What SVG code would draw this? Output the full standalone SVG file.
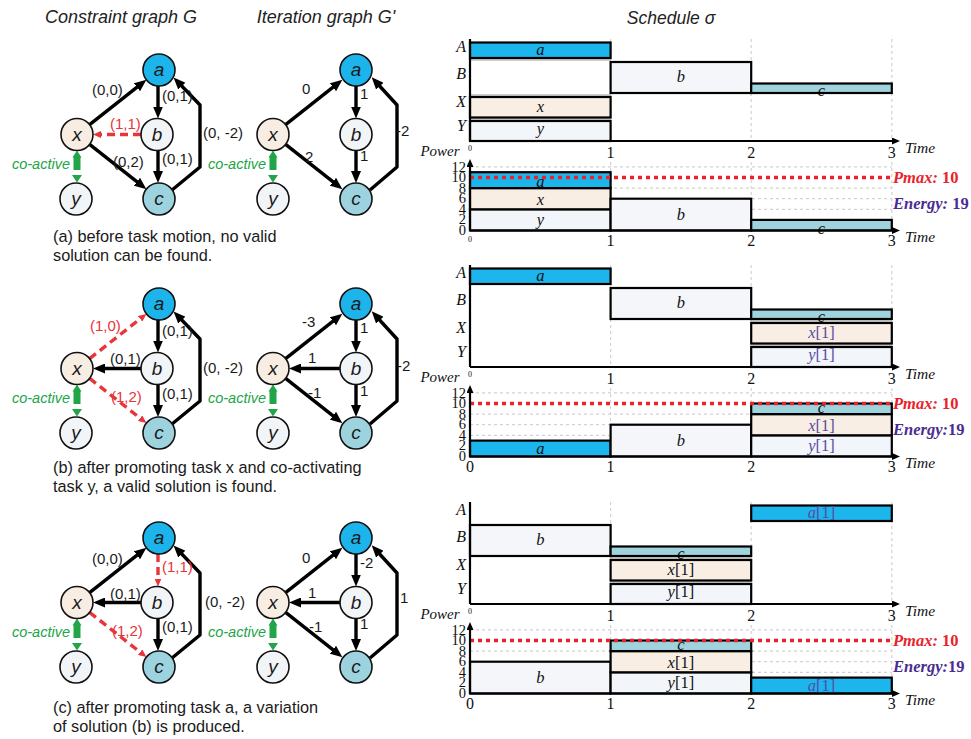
<svg xmlns="http://www.w3.org/2000/svg" width="971" height="739" viewBox="0 0 971 739">
<style>
.ttl{font-family:'Liberation Sans',Arial,sans-serif;font-style:italic;font-size:18px;fill:#222;text-anchor:middle}
.cap{font-family:'Liberation Sans',Arial,sans-serif;font-size:16.3px;fill:#1a1a1a}
.node circle{stroke:#111;stroke-width:1.6}
.node text{font-family:'Liberation Sans',Arial,sans-serif;font-style:italic;font-size:19px;fill:#1a1a1a;text-anchor:middle}
.fa{fill:#1cb4ea}.fb{fill:#f2f5f8}.fx{fill:#f7ede2}.fc{fill:#9dd3de}
.e{fill:none;stroke:#000;stroke-width:3.4;stroke-linejoin:round;marker-end:url(#ah)}
.d{fill:none;stroke:#e8353a;stroke-width:3.4;stroke-dasharray:8 5;marker-end:url(#ahr)}
.el{font-family:'Liberation Sans',Arial,sans-serif;font-size:15px;fill:#1a1a1a}
.el.r{fill:#e8353a}
.ca{font-family:'Liberation Sans',Arial,sans-serif;font-style:italic;font-size:14.5px;fill:#22a548;text-anchor:end}
.cg{fill:#22a548}
.rl{font-family:'Liberation Serif','Times New Roman',serif;font-style:italic;font-size:16px;fill:#111;text-anchor:end}
.tk{font-family:'Liberation Serif','Times New Roman',serif;font-size:16px;fill:#111;text-anchor:middle}
.tks{font-family:'Liberation Serif','Times New Roman',serif;font-size:8px;fill:#111;text-anchor:middle}
.pt{font-family:'Liberation Serif','Times New Roman',serif;font-size:14.5px;fill:#111;text-anchor:end}
.tm{font-family:'Liberation Serif','Times New Roman',serif;font-style:italic;font-size:15.5px;fill:#111}
.pw{font-family:'Liberation Serif','Times New Roman',serif;font-style:italic;font-size:15px;fill:#111;text-anchor:middle}
.ax{stroke:#000;stroke-width:2.2;fill:none}
.grid{stroke:#d2d2d2;stroke-width:1.2;stroke-dasharray:3 3;fill:none}
.lane{stroke:#9c9c9c;stroke-width:1;fill:none}
.t{stroke:#000;stroke-width:2.2}
.o{fill:none;stroke:#000;stroke-width:2.2}
.ta{fill:#1cb5ec}.tb{fill:#f4f6f9}.tc{fill:#9fd3de}.tx{fill:#f8eee4}.ty{fill:#f2f6fa}
.tl{font-family:'Liberation Serif','Times New Roman',serif;font-style:italic;font-size:16.5px;fill:#111;text-anchor:middle}
.tl.p{fill:#5b4ba2}
.up{font-style:normal}
.pmax{stroke:#e8232b;stroke-width:3.6;stroke-dasharray:4 4;fill:none}
.pm{font-family:'Liberation Serif','Times New Roman',serif;font-weight:bold;font-style:italic;font-size:16.5px;fill:#e8232b}
.en{font-family:'Liberation Serif','Times New Roman',serif;font-weight:bold;font-style:italic;font-size:16.5px;fill:#4a2c92}
</style>
<defs>
<marker id="ah" markerUnits="userSpaceOnUse" markerWidth="12" markerHeight="10" viewBox="0 0 12 10" refX="5" refY="5" orient="auto"><path d="M0,0 L12,5 L0,10 z" fill="#000"/></marker>
<marker id="ahr" markerUnits="userSpaceOnUse" markerWidth="8" markerHeight="7" viewBox="0 0 8 7" refX="3" refY="3.5" orient="auto"><path d="M0,0 L8,3.5 L0,7 z" fill="#e8353a"/></marker>
<marker id="axh" markerUnits="userSpaceOnUse" markerWidth="8" markerHeight="7" viewBox="0 0 8 7" refX="1" refY="3.5" orient="auto"><path d="M0,0 L8,3.5 L0,7 z" fill="#000"/></marker>
<g id="coact">
<polygon class="cg" points="72.5,157.5 77,150.5 81.5,157.5 80.5,157.5 80.5,170 73.5,170 73.5,157.5"/>
<polygon class="cg" points="72,175 82,175 77,182.5"/>
<text class="ca" x="70" y="169">co-active</text>
</g>
</defs>

<!-- column titles -->
<text class="ttl" x="121" y="23">Constraint graph G</text>
<text class="ttl" x="326" y="23">Iteration graph G'</text>
<text class="ttl" x="671" y="24" style="font-size:17.5px">Schedule σ</text>

<!-- ===== case (a) ===== -->
<g id="case-a">
 <g id="Ga">
  <g id="Ga-edges">
   <path class="e" d="M89.6,124.6 L140.9,84.2"/>
   <path class="e" d="M158,86 L158,111.5"/>
   <path class="e" d="M89.6,144.4 L140.9,184.8"/>
   <path class="e" d="M158,150.5 L158,176"/>
   <path class="e" d="M172,190 L200,167 L200,105 L178.4,82.5"/>
   <path class="d" d="M141,134.5 L98,134.5"/>
   <use href="#coact"/>
   <text class="el" x="92" y="95">(0,0)</text>
   <text class="el" x="162" y="101">(0,1)</text>
   <text class="el r" x="110" y="129">(1,1)</text>
   <text class="el" x="113" y="167">(0,2)</text>
   <text class="el" x="162" y="164">(0,1)</text>
   <text class="el" x="203" y="138">(0, -2)</text>
  </g>
  <g id="Ga-a" class="node"><circle class="fa" cx="159" cy="70" r="16"/><text x="159" y="76">a</text></g>
  <g id="Ga-b" class="node"><circle class="fb" cx="157" cy="134.5" r="16"/><text x="157" y="140.5">b</text></g>
  <g id="Ga-x" class="node"><circle class="fx" cx="77" cy="134.5" r="16"/><text x="77" y="140.5">x</text></g>
  <g id="Ga-c" class="node"><circle class="fc" cx="159" cy="199" r="16"/><text x="159" y="205">c</text></g>
  <g id="Ga-y" class="node"><circle class="fb" cx="76" cy="199" r="16"/><text x="76" y="205">y</text></g>
 </g>
 <g id="Ia" transform="translate(196,0)">
  <g id="Ia-edges">
   <path class="e" d="M89.6,124.6 L140.9,84.2"/>
   <path class="e" d="M160,86 L160,111.5"/>
   <path class="e" d="M89.6,144.4 L140.9,184.8"/>
   <path class="e" d="M160,150.5 L160,176"/>
   <path class="e" d="M174,190 L201,167 L201,105 L180.4,82.5"/>
   <use href="#coact"/>
   <text class="el" x="106" y="94">0</text>
   <text class="el" x="164" y="99">1</text>
   <text class="el" x="200" y="136">-2</text>
   <text class="el" x="109" y="162">2</text>
   <text class="el" x="164" y="161">1</text>
  </g>
  <g id="Ia-a" class="node"><circle class="fa" cx="160" cy="70" r="16"/><text x="160" y="76">a</text></g>
  <g id="Ia-b" class="node"><circle class="fb" cx="160" cy="134.5" r="16"/><text x="160" y="140.5">b</text></g>
  <g id="Ia-x" class="node"><circle class="fx" cx="77" cy="134.5" r="16"/><text x="77" y="140.5">x</text></g>
  <g id="Ia-c" class="node"><circle class="fc" cx="160" cy="199" r="16"/><text x="160" y="205">c</text></g>
  <g id="Ia-y" class="node"><circle class="fb" cx="77" cy="199" r="16"/><text x="77" y="205">y</text></g>
 </g>
 <text class="cap" x="53" y="242">(a) before task motion, no valid</text>
 <text class="cap" x="53" y="261">solution can be found.</text>
</g>

<!-- ===== case (b) ===== -->
<g id="case-b">
 <g id="Gb" transform="translate(0,234)">
  <g id="Gb-edges">
   <path class="d" d="M89.6,124.6 L142.5,83"/>
   <path class="e" d="M158,86 L158,111.5"/>
   <path class="e" d="M141,134.5 L100,134.5"/>
   <path class="d" d="M89.6,144.4 L142.5,186"/>
   <path class="e" d="M158,150.5 L158,176"/>
   <path class="e" d="M172,190 L200,167 L200,105 L178.4,82.5"/>
   <use href="#coact"/>
   <text class="el r" x="90" y="97">(1,0)</text>
   <text class="el" x="162" y="102">(0,1)</text>
   <text class="el" x="110" y="130">(0,1)</text>
   <text class="el r" x="111" y="168">(1,2)</text>
   <text class="el" x="162" y="165">(0,1)</text>
   <text class="el" x="203" y="139">(0, -2)</text>
  </g>
  <g id="Gb-a" class="node"><circle class="fa" cx="159" cy="70" r="16"/><text x="159" y="76">a</text></g>
  <g id="Gb-b" class="node"><circle class="fb" cx="157" cy="134.5" r="16"/><text x="157" y="140.5">b</text></g>
  <g id="Gb-x" class="node"><circle class="fx" cx="77" cy="134.5" r="16"/><text x="77" y="140.5">x</text></g>
  <g id="Gb-c" class="node"><circle class="fc" cx="159" cy="199" r="16"/><text x="159" y="205">c</text></g>
  <g id="Gb-y" class="node"><circle class="fb" cx="76" cy="199" r="16"/><text x="76" y="205">y</text></g>
 </g>
 <g id="Ib" transform="translate(196,234)">
  <g id="Ib-edges">
   <path class="e" d="M89.6,124.6 L140.9,84.2"/>
   <path class="e" d="M160,86 L160,111.5"/>
   <path class="e" d="M144,134.5 L100,134.5"/>
   <path class="e" d="M89.6,144.4 L140.9,184.8"/>
   <path class="e" d="M160,150.5 L160,176"/>
   <path class="e" d="M174,190 L201,167 L201,105 L180.4,82.5"/>
   <use href="#coact"/>
   <text class="el" x="106" y="93">-3</text>
   <text class="el" x="164" y="99">1</text>
   <text class="el" x="112" y="129">1</text>
   <text class="el" x="112" y="164">-1</text>
   <text class="el" x="164" y="162">1</text>
   <text class="el" x="201" y="137">-2</text>
  </g>
  <g id="Ib-a" class="node"><circle class="fa" cx="160" cy="70" r="16"/><text x="160" y="76">a</text></g>
  <g id="Ib-b" class="node"><circle class="fb" cx="160" cy="134.5" r="16"/><text x="160" y="140.5">b</text></g>
  <g id="Ib-x" class="node"><circle class="fx" cx="77" cy="134.5" r="16"/><text x="77" y="140.5">x</text></g>
  <g id="Ib-c" class="node"><circle class="fc" cx="160" cy="199" r="16"/><text x="160" y="205">c</text></g>
  <g id="Ib-y" class="node"><circle class="fb" cx="77" cy="199" r="16"/><text x="77" y="205">y</text></g>
 </g>
 <text class="cap" x="53" y="473">(b) after promoting task x and co-activating</text>
 <text class="cap" x="53" y="492">task y, a valid solution is found.</text>
</g>

<!-- ===== case (c) ===== -->
<g id="case-c">
 <g id="Gc" transform="translate(0,468)">
  <g id="Gc-edges">
   <path class="e" d="M89.6,124.6 L140.9,84.2"/>
   <path class="d" d="M158,86 L158,113.5"/>
   <path class="e" d="M141,134.5 L100,134.5"/>
   <path class="d" d="M89.6,144.4 L142.5,186"/>
   <path class="e" d="M158,150.5 L158,176"/>
   <path class="e" d="M172,190 L200,167 L200,105 L178.4,82.5"/>
   <use href="#coact"/>
   <text class="el" x="92" y="96">(0,0)</text>
   <text class="el r" x="162" y="104">(1,1)</text>
   <text class="el" x="110" y="131">(0,1)</text>
   <text class="el r" x="112" y="168">(1,2)</text>
   <text class="el" x="162" y="164">(0,1)</text>
   <text class="el" x="205" y="139">(0, -2)</text>
  </g>
  <g id="Gc-a" class="node"><circle class="fa" cx="159" cy="70" r="16"/><text x="159" y="76">a</text></g>
  <g id="Gc-b" class="node"><circle class="fb" cx="157" cy="134.5" r="16"/><text x="157" y="140.5">b</text></g>
  <g id="Gc-x" class="node"><circle class="fx" cx="77" cy="134.5" r="16"/><text x="77" y="140.5">x</text></g>
  <g id="Gc-c" class="node"><circle class="fc" cx="159" cy="199" r="16"/><text x="159" y="205">c</text></g>
  <g id="Gc-y" class="node"><circle class="fb" cx="76" cy="199" r="16"/><text x="76" y="205">y</text></g>
 </g>
 <g id="Ic" transform="translate(196,468)">
  <g id="Ic-edges">
   <path class="e" d="M89.6,124.6 L140.9,84.2"/>
   <path class="e" d="M160,86 L160,111.5"/>
   <path class="e" d="M144,134.5 L100,134.5"/>
   <path class="e" d="M89.6,144.4 L140.9,184.8"/>
   <path class="e" d="M160,150.5 L160,176"/>
   <path class="e" d="M174,190 L201,167 L201,105 L180.4,82.5"/>
   <use href="#coact"/>
   <text class="el" x="106" y="95">0</text>
   <text class="el" x="164" y="100">-2</text>
   <text class="el" x="112" y="130">1</text>
   <text class="el" x="113" y="164">-1</text>
   <text class="el" x="164" y="161">1</text>
   <text class="el" x="204" y="135">1</text>
  </g>
  <g id="Ic-a" class="node"><circle class="fa" cx="160" cy="70" r="16"/><text x="160" y="76">a</text></g>
  <g id="Ic-b" class="node"><circle class="fb" cx="160" cy="134.5" r="16"/><text x="160" y="140.5">b</text></g>
  <g id="Ic-x" class="node"><circle class="fx" cx="77" cy="134.5" r="16"/><text x="77" y="140.5">x</text></g>
  <g id="Ic-c" class="node"><circle class="fc" cx="160" cy="199" r="16"/><text x="160" y="205">c</text></g>
  <g id="Ic-y" class="node"><circle class="fb" cx="77" cy="199" r="16"/><text x="77" y="205">y</text></g>
 </g>
 <text class="cap" x="53" y="713">(c) after promoting task a, a variation</text>
 <text class="cap" x="53" y="732">of solution (b) is produced.</text>
</g>

<!-- ===== schedule 1 ===== -->
<g id="sched-a">
 <path class="grid" d="M610.6,39V141 M751.2,39V141 M891.8,39V141"/>
 <path class="lane" d="M470,60H610.6 M470,95H610.6 M470,119H610.6"/>
 <rect class="t ta" x="470" y="42.5" width="140.6" height="15.5"/><text class="tl" x="540.3" y="55">a</text>
 <rect class="t tb" x="610.6" y="62" width="140.6" height="31"/><text class="tl" x="680.9" y="82">b</text>
 <rect class="tc" x="751.2" y="83.5" width="140.6" height="9.5"/><text class="tl" x="821.5" y="96">c</text><rect class="o" x="751.2" y="83.5" width="140.6" height="9.5"/>
 <rect class="t tx" x="470" y="97" width="140.6" height="20.5"/><text class="tl" x="540.3" y="111.5">x</text>
 <rect class="t ty" x="470" y="121" width="140.6" height="20"/><text class="tl" x="540.3" y="134">y</text>
 <path class="ax" d="M470,39V141"/>
 <path class="ax" d="M470,141H893" marker-end="url(#axh)"/>
 <text class="rl" x="466" y="52">A</text><text class="rl" x="466" y="78.5">B</text><text class="rl" x="466" y="107">X</text><text class="rl" x="466" y="130.5">Y</text>
 <text class="tks" x="470" y="151">0</text>
 <text class="tk" x="610.6" y="158">1</text><text class="tk" x="751.2" y="158">2</text><text class="tk" x="891.8" y="158">3</text>
 <text class="tm" x="905" y="153">Time</text>
</g>
<g id="power-a">
 <text class="pw" x="440" y="156">Power</text>
 <path class="grid" d="M470,166.9H891.8 M470,188.1H891.8 M470,198.7H891.8 M470,209.3H891.8 M470,219.9H891.8 M610.6,162V230.5 M751.2,162V230.5 M891.8,162V230.5"/>
 <rect class="t ty" x="470" y="209.3" width="140.6" height="21.2"/><text class="tl" x="540.3" y="225">y</text>
 <rect class="t tx" x="470" y="188.1" width="140.6" height="21.2"/><text class="tl" x="540.3" y="204.5">x</text>
 <rect class="t ta" x="470" y="172.2" width="140.6" height="15.9"/><text class="tl" x="540.3" y="187">a</text>
 <rect class="t tb" x="610.6" y="198.7" width="140.6" height="31.8"/><text class="tl" x="680.9" y="220">b</text>
 <rect class="t tc" x="751.2" y="219.9" width="140.6" height="10.6"/><text class="tl" x="821.5" y="233.5">c</text>
 <path class="pmax" d="M470,177.5H892"/>
 <path class="ax" d="M470,230.5V166" marker-end="url(#axh)"/>
 <path class="ax" d="M470,230.5H893" marker-end="url(#axh)"/>
 <text class="pt" x="466" y="171.5">12</text><text class="pt" x="466" y="182">10</text><text class="pt" x="466" y="192.6">8</text><text class="pt" x="466" y="203.2">6</text><text class="pt" x="466" y="213.8">4</text><text class="pt" x="466" y="224.4">2</text><text class="pt" x="466" y="235">0</text>
 <text class="pm" x="893" y="183">Pmax: <tspan class="up">10</tspan></text>
 <text class="en" x="893" y="209">Energy: <tspan class="up">19</tspan></text>
 <text class="tks" x="470" y="242">0</text>
 <text class="tk" x="610.6" y="245.5">1</text><text class="tk" x="751.2" y="245.5">2</text><text class="tk" x="891.8" y="245.5">3</text>
 <text class="tm" x="905" y="242">Time</text>
</g>

<!-- ===== schedule 2 ===== -->
<g id="sched-b" transform="translate(0,226)">
 <path class="grid" d="M610.6,39V141 M751.2,39V141 M891.8,39V141"/>
 <path class="lane" d="M751.2,95H891.8 M751.2,119H891.8"/>
 <rect class="t ta" x="470" y="42.5" width="140.6" height="15.5"/><text class="tl" x="540.3" y="55">a</text>
 <rect class="t tb" x="610.6" y="62" width="140.6" height="31"/><text class="tl" x="680.9" y="82">b</text>
 <rect class="tc" x="751.2" y="83.5" width="140.6" height="9.5"/><text class="tl" x="821.5" y="96">c</text><rect class="o" x="751.2" y="83.5" width="140.6" height="9.5"/>
 <rect class="t tx" x="751.2" y="97" width="140.6" height="20.5"/><text class="tl p" x="821.5" y="111.5">x<tspan class="up">[1]</tspan></text>
 <rect class="t ty" x="751.2" y="121" width="140.6" height="20"/><text class="tl p" x="821.5" y="134">y<tspan class="up">[1]</tspan></text>
 <path class="ax" d="M470,39V141"/>
 <path class="ax" d="M470,141H893" marker-end="url(#axh)"/>
 <text class="rl" x="466" y="52">A</text><text class="rl" x="466" y="78.5">B</text><text class="rl" x="466" y="107">X</text><text class="rl" x="466" y="130.5">Y</text>
 <text class="tks" x="470" y="151">0</text>
 <text class="tk" x="610.6" y="158">1</text><text class="tk" x="751.2" y="158">2</text><text class="tk" x="891.8" y="158">3</text>
 <text class="tm" x="905" y="153">Time</text>
</g>
<g id="power-b" transform="translate(0,226)">
 <text class="pw" x="440" y="156">Power</text>
 <path class="grid" d="M470,166.9H891.8 M470,188.1H891.8 M470,198.7H891.8 M470,209.3H891.8 M470,219.9H891.8 M610.6,162V230.5 M751.2,162V230.5 M891.8,162V230.5"/>
 <rect class="t ta" x="470" y="214.6" width="140.6" height="15.9"/><text class="tl" x="540.3" y="228">a</text>
 <rect class="t tb" x="610.6" y="198.7" width="140.6" height="31.8"/><text class="tl" x="680.9" y="220">b</text>
 <rect class="t ty" x="751.2" y="209.3" width="140.6" height="21.2"/><text class="tl p" x="821.5" y="225">y<tspan class="up">[1]</tspan></text>
 <rect class="t tx" x="751.2" y="188.1" width="140.6" height="21.2"/><text class="tl p" x="821.5" y="204.5">x<tspan class="up">[1]</tspan></text>
 <rect class="t tc" x="751.2" y="177.5" width="140.6" height="10.6"/><text class="tl" x="821.5" y="187">c</text>
 <path class="pmax" d="M470,177.5H892"/>
 <path class="ax" d="M470,230.5V166" marker-end="url(#axh)"/>
 <path class="ax" d="M470,230.5H893" marker-end="url(#axh)"/>
 <text class="pt" x="466" y="171.5">12</text><text class="pt" x="466" y="182">10</text><text class="pt" x="466" y="192.6">8</text><text class="pt" x="466" y="203.2">6</text><text class="pt" x="466" y="213.8">4</text><text class="pt" x="466" y="224.4">2</text><text class="pt" x="466" y="235">0</text>
 <text class="pm" x="893" y="183">Pmax: <tspan class="up">10</tspan></text>
 <text class="en" x="893" y="209">Energy:<tspan class="up">19</tspan></text>
 <text class="tk" x="470" y="245.5">0</text>
 <text class="tk" x="610.6" y="245.5">1</text><text class="tk" x="751.2" y="245.5">2</text><text class="tk" x="891.8" y="245.5">3</text>
 <text class="tm" x="905" y="242">Time</text>
</g>

<!-- ===== schedule 3 ===== -->
<g id="sched-c" transform="translate(0,463)">
 <path class="grid" d="M610.6,39V141 M751.2,39V141 M891.8,39V141"/>
 <path class="lane" d="M610.6,95H751.2 M610.6,119H751.2"/>
 <rect class="t ta" x="751.2" y="42.5" width="140.6" height="15.5"/><text class="tl p" x="821.5" y="55">a<tspan class="up">[1]</tspan></text>
 <rect class="t tb" x="470" y="62" width="140.6" height="31"/><text class="tl" x="540.3" y="82">b</text>
 <rect class="tc" x="610.6" y="83.5" width="140.6" height="9.5"/><text class="tl" x="680.9" y="96">c</text><rect class="o" x="610.6" y="83.5" width="140.6" height="9.5"/>
 <rect class="t tx" x="610.6" y="97" width="140.6" height="20.5"/><text class="tl" x="680.9" y="111.5">x<tspan class="up">[1]</tspan></text>
 <rect class="t ty" x="610.6" y="121" width="140.6" height="20"/><text class="tl" x="680.9" y="134">y<tspan class="up">[1]</tspan></text>
 <path class="ax" d="M470,39V141"/>
 <path class="ax" d="M470,141H893" marker-end="url(#axh)"/>
 <text class="rl" x="466" y="52">A</text><text class="rl" x="466" y="78.5">B</text><text class="rl" x="466" y="107">X</text><text class="rl" x="466" y="130.5">Y</text>
 <text class="tks" x="470" y="151">0</text>
 <text class="tk" x="610.6" y="158">1</text><text class="tk" x="751.2" y="158">2</text><text class="tk" x="891.8" y="158">3</text>
 <text class="tm" x="905" y="153">Time</text>
</g>
<g id="power-c" transform="translate(0,463)">
 <text class="pw" x="440" y="156">Power</text>
 <path class="grid" d="M470,166.9H891.8 M470,188.1H891.8 M470,198.7H891.8 M470,209.3H891.8 M470,219.9H891.8 M610.6,162V230.5 M751.2,162V230.5 M891.8,162V230.5"/>
 <rect class="t tb" x="470" y="198.7" width="140.6" height="31.8"/><text class="tl" x="540.3" y="220">b</text>
 <rect class="t ty" x="610.6" y="209.3" width="140.6" height="21.2"/><text class="tl" x="680.9" y="225">y<tspan class="up">[1]</tspan></text>
 <rect class="t tx" x="610.6" y="188.1" width="140.6" height="21.2"/><text class="tl" x="680.9" y="204.5">x<tspan class="up">[1]</tspan></text>
 <rect class="t tc" x="610.6" y="177.5" width="140.6" height="10.6"/><text class="tl" x="680.9" y="187">c</text>
 <rect class="t ta" x="751.2" y="214.6" width="140.6" height="15.9"/><text class="tl p" x="821.5" y="228">a<tspan class="up">[1]</tspan></text>
 <path class="pmax" d="M470,177.5H892"/>
 <path class="ax" d="M470,230.5V166" marker-end="url(#axh)"/>
 <path class="ax" d="M470,230.5H893" marker-end="url(#axh)"/>
 <text class="pt" x="466" y="171.5">12</text><text class="pt" x="466" y="182">10</text><text class="pt" x="466" y="192.6">8</text><text class="pt" x="466" y="203.2">6</text><text class="pt" x="466" y="213.8">4</text><text class="pt" x="466" y="224.4">2</text><text class="pt" x="466" y="235">0</text>
 <text class="pm" x="893" y="183">Pmax: <tspan class="up">10</tspan></text>
 <text class="en" x="893" y="209">Energy:<tspan class="up">19</tspan></text>
 <text class="tk" x="470" y="245.5">0</text>
 <text class="tk" x="610.6" y="245.5">1</text><text class="tk" x="751.2" y="245.5">2</text><text class="tk" x="891.8" y="245.5">3</text>
 <text class="tm" x="905" y="242">Time</text>
</g>
</svg>
